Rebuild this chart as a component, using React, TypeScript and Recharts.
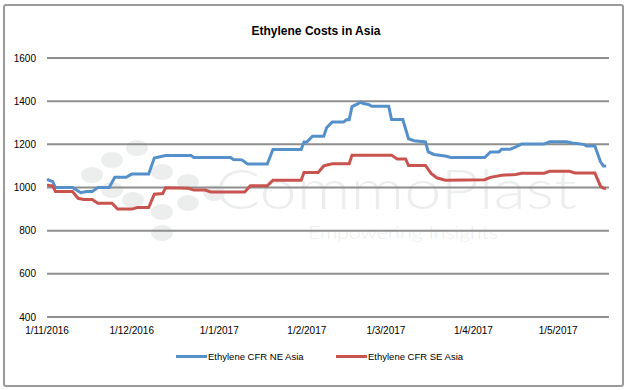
import { LineChart, Line, XAxis, YAxis, CartesianGrid } from "recharts";

// Ethylene CFR NE Asia (USD/t)
const neDates = [
  "2016-11-01", "2016-11-03", "2016-11-04", "2016-11-10", "2016-11-13", "2016-11-15",
  "2016-11-17", "2016-11-19", "2016-11-23", "2016-11-25", "2016-11-29", "2016-12-01",
  "2016-12-07", "2016-12-09", "2016-12-13", "2016-12-22", "2016-12-23", "2017-01-05",
  "2017-01-06", "2017-01-09", "2017-01-11", "2017-01-18", "2017-01-20", "2017-01-30",
  "2017-01-31", "2017-02-01", "2017-02-03", "2017-02-07", "2017-02-08", "2017-02-10",
  "2017-02-14", "2017-02-15", "2017-02-16", "2017-02-17", "2017-02-19", "2017-02-20",
  "2017-02-21", "2017-02-23", "2017-02-24", "2017-03-02", "2017-03-03", "2017-03-07",
  "2017-03-09", "2017-03-11", "2017-03-15", "2017-03-16", "2017-03-18", "2017-03-22",
  "2017-03-24", "2017-04-05", "2017-04-07", "2017-04-10", "2017-04-11", "2017-04-14",
  "2017-04-16", "2017-04-18", "2017-04-26", "2017-04-28", "2017-05-04", "2017-05-06",
  "2017-05-10", "2017-05-11", "2017-05-14", "2017-05-16", "2017-05-17", "2017-05-18",
];
const neValues = [
  1038, 1027, 1000, 1000, 976, 981,
  981, 1000, 1000, 1047, 1047, 1062,
  1062, 1137, 1148, 1148, 1139, 1139,
  1130, 1128, 1109, 1109, 1176, 1176,
  1211, 1211, 1238, 1238, 1277, 1303,
  1303, 1314, 1314, 1375, 1387, 1395,
  1389, 1384, 1376, 1376, 1315, 1315,
  1226, 1217, 1211, 1165, 1153, 1146,
  1139, 1139, 1165, 1165, 1177, 1177,
  1188, 1201, 1201, 1212, 1212, 1206,
  1200, 1192, 1192, 1119, 1100, 1100,
];

// Ethylene CFR SE Asia (USD/t)
const seDates = [
  "2016-11-01", "2016-11-03", "2016-11-04", "2016-11-10", "2016-11-12", "2016-11-14",
  "2016-11-17", "2016-11-19", "2016-11-24", "2016-11-26", "2016-12-01", "2016-12-03",
  "2016-12-07", "2016-12-09", "2016-12-12", "2016-12-13", "2016-12-21", "2016-12-23",
  "2016-12-27", "2016-12-29", "2017-01-10", "2017-01-12", "2017-01-18", "2017-01-20",
  "2017-01-30", "2017-01-31", "2017-02-05", "2017-02-07", "2017-02-10", "2017-02-16",
  "2017-02-17", "2017-03-03", "2017-03-05", "2017-03-08", "2017-03-09", "2017-03-15",
  "2017-03-17", "2017-03-19", "2017-03-22", "2017-04-05", "2017-04-07", "2017-04-11",
  "2017-04-16", "2017-04-18", "2017-04-26", "2017-04-28", "2017-05-05", "2017-05-07",
  "2017-05-14", "2017-05-16", "2017-05-17", "2017-05-18",
];
const seValues = [
  1011, 1008, 981, 981, 950, 944,
  944, 927, 927, 900, 900, 907,
  907, 969, 972, 999, 996, 988,
  988, 979, 979, 1008, 1008, 1034,
  1034, 1070, 1070, 1100, 1110, 1110,
  1150, 1150, 1132, 1132, 1102, 1102,
  1065, 1045, 1034, 1036, 1047, 1057,
  1060, 1066, 1066, 1075, 1075, 1067,
  1067, 1006, 997, 997,
];

const seriesNames = ["Ethylene CFR NE Asia", "Ethylene CFR SE Asia"];
const seriesColors = ["#5690ca", "#c9534f"];
const tickDates = [
  "2016-11-01", "2016-12-01", "2017-01-01", "2017-02-01",
  "2017-03-01", "2017-04-01", "2017-05-01",
];
const yTicks = [400, 600, 800, 1000, 1200, 1400, 1600];
const axisStart = "2016-11-01";
const axisEnd = "2017-05-19";

const toTime = (s: string) => Date.parse(s + "T00:00:00Z");

const fmtDate = (t: number) => {
  const d = new Date(t);
  return `${d.getUTCDate()}/${d.getUTCMonth() + 1}/${d.getUTCFullYear()}`;
};

const rows = new Map<number, { t: number; ne?: number; se?: number }>();
neDates.forEach((s, i) => {
  const t = toTime(s);
  rows.set(t, { ...(rows.get(t) || { t }), ne: neValues[i] });
});
seDates.forEach((s, i) => {
  const t = toTime(s);
  rows.set(t, { ...(rows.get(t) || { t }), se: seValues[i] });
});
const data = Array.from(rows.values()).sort((a, b) => a.t - b.t);

const font = "'Liberation Sans', Arial, sans-serif";
const dots = [
  [137, 148], [112, 160], [92, 175], [162, 172], [188, 182], [112, 190],
  [133, 200], [162, 212], [188, 203], [214, 193], [162, 233],
];

export default function App() {
  return (
    <div
      style={{
        position: "fixed",
        left: 0,
        top: 0,
        width: 632,
        height: 390,
        background: "#fff",
        fontFamily: font,
      }}
    >
      {/* frame */}
      <div
        style={{
          position: "absolute",
          left: 3,
          top: 4,
          width: 617,
          height: 379,
          border: "2px solid #9a9a9a",
          borderRadius: 3,
        }}
      />
      {/* watermark */}
      <svg width={632} height={390} style={{ position: "absolute", left: 0, top: 0 }}>
        {dots.map(([cx, cy], i) => (
          <ellipse key={i} cx={cx} cy={cy} rx={11} ry={8} fill="#eceeee" />
        ))}
        <text
          x={215}
          y={209}
          fontSize={56}
          textLength={362}
          lengthAdjust="spacingAndGlyphs"
          fontFamily="Lato, sans-serif"
          fontWeight={300}
          fill="#eceeee"
        >
          CommoPlast
        </text>
        <text
          x={308}
          y={239}
          fontSize={17}
          textLength={190}
          lengthAdjust="spacingAndGlyphs"
          fontFamily="Lato, sans-serif"
          fontWeight={300}
          fill="#eceeee"
        >
          Empowering Insights
        </text>
      </svg>
      <div
        style={{
          position: "absolute",
          left: 0,
          top: 24,
          width: 632,
          textAlign: "center",
          fontSize: 12,
          fontWeight: "bold",
          color: "#000",
        }}
      >
        Ethylene Costs in Asia
      </div>
      <div style={{ position: "absolute", left: 0, top: 0 }}>
        <LineChart
          width={632}
          height={390}
          data={data}
          margin={{ top: 58, right: 23, bottom: 43, left: 0 }}
        >
          <CartesianGrid vertical={false} stroke="#8e8e8e" strokeWidth={2} />
          <XAxis
            dataKey="t"
            type="number"
            domain={[toTime(axisStart), toTime(axisEnd)]}
            ticks={tickDates.map(toTime)}
            tickFormatter={fmtDate}
            axisLine={false}
            tickLine={false}
            tickSize={6}
            tickMargin={4}
            height={30}
            tick={{ fontSize: 10, fill: "#000", fontFamily: font }}
          />
          <YAxis
            domain={[400, 1600]}
            ticks={yTicks}
            axisLine={false}
            tickLine={false}
            tickSize={6}
            tickMargin={5}
            width={47}
            tick={{ fontSize: 10, fill: "#000", fontFamily: font }}
          />
          <Line
            dataKey="ne"
            name={seriesNames[0]}
            stroke={seriesColors[0]}
            strokeWidth={3}
            dot={false}
            connectNulls
            isAnimationActive={false}
          />
          <Line
            dataKey="se"
            name={seriesNames[1]}
            stroke={seriesColors[1]}
            strokeWidth={3}
            dot={false}
            connectNulls
            isAnimationActive={false}
          />
        </LineChart>
      </div>
      {/* legend */}
      <div
        style={{
          position: "absolute",
          left: 0,
          top: 351,
          width: 632,
          fontSize: 9.5,
          color: "#000",
        }}
      >
        {seriesNames.map((n, i) => (
          <div
            key={n}
            style={{
              position: "absolute",
              left: i === 0 ? 176 : 336,
              top: 0,
              display: "flex",
              alignItems: "center",
              whiteSpace: "nowrap",
            }}
          >
            <span
              style={{
                display: "inline-block",
                width: 31,
                height: 3,
                background: seriesColors[i],
                marginRight: 1,
              }}
            />
            {n}
          </div>
        ))}
      </div>
    </div>
  );
}
